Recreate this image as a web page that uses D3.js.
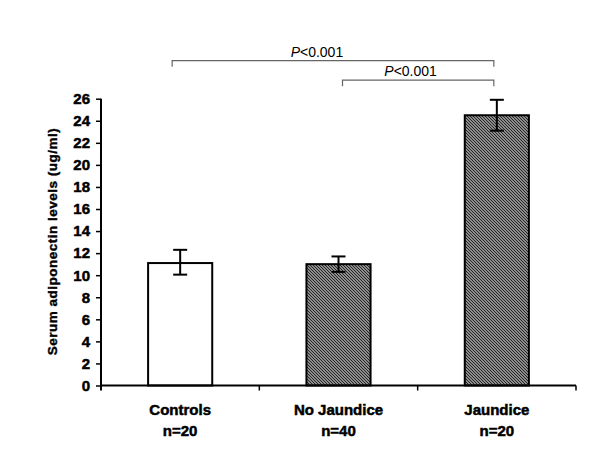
<!DOCTYPE html>
<html><head><meta charset="utf-8">
<script src="https://cdn.jsdelivr.net/npm/d3@7"></script>
<style>body{margin:0;background:#fff}svg{display:block}
.heavy{font-family:Arial,"Liberation Sans",sans-serif;font-weight:bold;fill:#000;stroke:#000;stroke-width:0.5px}</style>
</head><body>
<svg id="c" width="600" height="450"></svg>
<script>
const categories = ["Controls", "No Jaundice", "Jaundice"];
const sampleSizes = ["n=20", "n=40", "n=20"];
const means = [11.1, 11.0, 24.5];
const errLow = [10.05, 10.3, 23.1];
const errHigh = [12.3, 11.7, 25.9];
const fills = ["white", "hatch", "hatch"];
const yTicks = [0,2,4,6,8,10,12,14,16,18,20,22,24,26];
const brackets = [
  {from: 0, to: 2, label: "<0.001", level: 0},
  {from: 1, to: 2, label: "<0.001", level: 1}
];

(function(){
const svg = d3.select("#c");
const pL = 101, pR = 576, pT = 98.7, pB = 385.5;
const x = d3.scaleBand().domain(categories).range([pL, pR]).paddingInner(0.595).paddingOuter(0.2975);
const y = d3.scaleLinear().domain([0, 26]).range([pB, pT]);

const defs = svg.append("defs");
const pat = defs.append("pattern").attr("id","hatch").attr("patternUnits","userSpaceOnUse")
  .attr("width",3).attr("height",3);
pat.append("rect").attr("width",3).attr("height",3).attr("fill","#bdbdbd");
pat.append("path").attr("d","M-1,-1L4,4M-1,2L1,4M2,-1L4,1").attr("stroke","#1e1e1e").attr("stroke-width",1.15);

// bars
svg.selectAll("rect.bar").data(categories).enter().append("rect")
  .attr("x", d => x(d)).attr("width", x.bandwidth())
  .attr("y", (d,i) => y(means[i])).attr("height", (d,i) => y(0) - y(means[i]))
  .attr("fill", (d,i) => fills[i] === "hatch" ? "url(#hatch)" : "white")
  .attr("stroke", "#000").attr("stroke-width", 2);

// error bars
const eb = svg.append("g").attr("stroke","#000").attr("stroke-width",2);
categories.forEach((c,i) => {
  const cx = x(c) + x.bandwidth()/2;
  eb.append("line").attr("x1",cx).attr("x2",cx).attr("y1",y(errLow[i])).attr("y2",y(errHigh[i]));
  eb.append("line").attr("x1",cx-7).attr("x2",cx+7).attr("y1",y(errLow[i])).attr("y2",y(errLow[i]));
  eb.append("line").attr("x1",cx-7).attr("x2",cx+7).attr("y1",y(errHigh[i])).attr("y2",y(errHigh[i]));
});

// y axis
const ya = svg.append("g").attr("transform",`translate(${pL},0)`)
  .call(d3.axisLeft(y).tickValues(yTicks).tickSize(5).tickPadding(6));
ya.select(".domain").attr("stroke-width",2).attr("d",`M0,${pB+5}V${pT}`);
ya.selectAll(".tick line").attr("stroke-width",1.5);
ya.selectAll("text").attr("class","heavy").attr("font-size",15).attr("font-family",null);

// x axis
const xa = svg.append("g").attr("stroke","#000");
xa.append("line").attr("x1",pL).attr("x2",pR).attr("y1",pB).attr("y2",pB).attr("stroke-width",2);
[1,2,3].forEach(k => {
  const bx = pL + k*(pR-pL)/3;
  xa.append("line").attr("x1",bx).attr("x2",bx).attr("y1",pB).attr("y2",pB+5).attr("stroke-width",1.5);
});

// category labels
svg.selectAll("text.cat").data(categories).enter().append("text").attr("class","heavy")
  .attr("x", d => x(d)+x.bandwidth()/2).attr("y", 415).attr("text-anchor","middle")
  .attr("font-size",15).text(d => d);
svg.selectAll("text.n").data(categories).enter().append("text").attr("class","heavy")
  .attr("x", d => x(d)+x.bandwidth()/2).attr("y", 436).attr("text-anchor","middle")
  .attr("font-size",15).text((d,i) => sampleSizes[i]);

// y label
svg.append("text").attr("class","heavy").attr("transform",`translate(57,${(pT+pB)/2 - 0.5}) rotate(-90)`)
  .attr("text-anchor","middle").attr("font-size",13.5).style("letter-spacing","0.5px").style("stroke-width","0.4px")
  .text("Serum adiponectin levels (ug/ml)");

// brackets
brackets.forEach(b => {
  const by = 60.7 + b.level*19.5;
  const x1 = x(categories[b.from]) + x.bandwidth()/2 + (b.from===1 ? 4 : -8);
  const x2 = x(categories[b.to]) + x.bandwidth()/2 - 3;
  svg.append("path").attr("d",`M${x1},${by+6}V${by}H${x2}V${by+6}`)
    .attr("fill","none").attr("stroke","#666").attr("stroke-width",1.2);
  const t = svg.append("text").attr("x",x1 + 0.45*(x2-x1)).attr("y",by-4).attr("text-anchor","middle")
    .attr("font-family","Arial, Liberation Sans, sans-serif").attr("font-size",14);
  t.append("tspan").attr("font-style","italic").text("P");
  t.append("tspan").text(b.label);
});
})();
</script>
</body></html>
